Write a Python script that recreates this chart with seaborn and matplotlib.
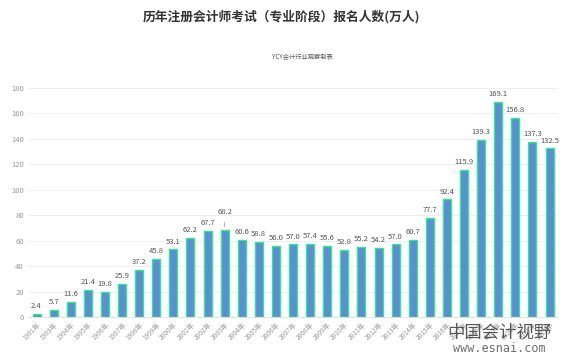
import matplotlib
matplotlib.use("Agg")
import matplotlib.pyplot as plt
import seaborn as sns
import pandas as pd

years = [1991, 1993, 1994, 1995, 1996, 1997, 1998, 1999, 2000, 2001, 2002, 2003,
         2004, 2005, 2006, 2007, 2008, 2009, 2010, 2011, 2012, 2013, 2014, 2015,
         2016, 2017, 2018, 2019, 2020, 2021, 2022]
values = [2.4, 5.7, 11.6, 21.4, 19.8, 25.9, 37.2, 45.8, 53.1, 62.2, 67.7, 68.2,
          60.6, 58.8, 56.0, 57.0, 57.4, 55.6, 52.8, 55.2, 54.2, 57.0, 60.7, 77.7,
          92.4, 115.9, 139.3, 169.1, 156.8, 137.3, 132.5]
labels = [f"{y}年" for y in years]
yticks = [0, 20, 40, 60, 80, 100, 120, 140, 160, 180]

sns.set_theme(style="white")
plt.rcParams['font.family'] = ['Noto Sans CJK SC', 'DejaVu Sans']

df = pd.DataFrame({"year": labels, "value": values})

fig = plt.figure(figsize=(5.66, 3.6), dpi=100)
ax = fig.add_axes([0.0495, 0.1194, 0.9365, 0.6362])

sns.barplot(data=df, x="year", y="value", ax=ax, color="#5b8fd4",
            edgecolor="#2fe88c", linewidth=1.0, width=0.47, saturation=1)

ax.set_ylim(0, 180)
ax.set_xlim(-0.5, len(values) - 0.5)
ax.set_yticks(yticks)
ax.set_yticklabels([str(t) for t in yticks], fontsize=5.5, color="#999999")
ax.set_xticks(range(len(labels)))
ax.set_xticklabels(labels, rotation=45, ha="right", rotation_mode="anchor",
                   fontsize=4.8, color="#999999")
ax.tick_params(axis="both", length=0, pad=3)
ax.yaxis.grid(True, color="#eeeeee", linewidth=0.7)
ax.set_axisbelow(True)
for s in ["top", "right", "left"]:
    ax.spines[s].set_visible(False)
ax.spines["bottom"].set_color("#e0e0e0")
ax.spines["bottom"].set_linewidth(0.7)
ax.set_xlabel("")
ax.set_ylabel("")

for i, v in enumerate(values):
    if v == 68.2:
        ax.annotate(f"{v:.1f}", xy=(i, v + 0.5), xytext=(i, v + 11),
                    ha="center", va="bottom", fontsize=5.5, color="#555555",
                    arrowprops=dict(arrowstyle="-", color="#999999", lw=0.5))
    else:
        ax.text(i, v + 3, f"{v:.1f}", ha="center", va="bottom",
                fontsize=5.5, color="#555555")

fig.text(0.498, 0.953, "历年注册会计师考试（专业阶段）报名人数(万人)", ha="center",
         va="center", fontsize=9.2, color="#333333", fontweight="bold")
fig.text(0.535, 0.842, "YCY会计行业观察制表", ha="center", va="center",
         fontsize=4.5, color="#555555")

fig.text(0.882, 0.076, "中国会计视野", ha="center", va="center",
         fontsize=12.5, color="#3a3a3a", alpha=0.85)
fig.text(0.882, 0.031, "www.esnai.com", ha="center", va="center",
         fontsize=8.5, color="#555555", alpha=0.85, family="DejaVu Sans Mono")

fig.savefig("out.png", dpi=100)
